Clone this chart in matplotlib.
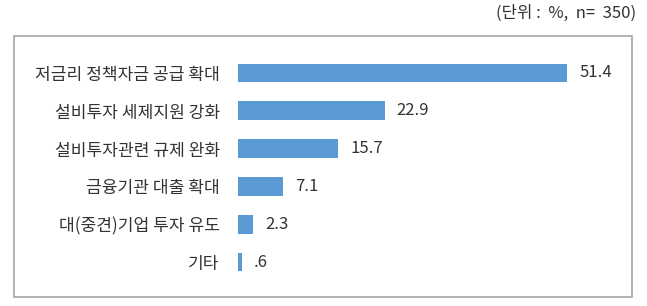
import matplotlib.pyplot as plt
from matplotlib.patches import Rectangle

plt.rcParams['font.family'] = ['Noto Sans CJK KR', 'DejaVu Sans']

categories = ['저금리 정책자금 공급 확대', '설비투자 세제지원 강화', '설비투자관련 규제 완화',
              '금융기관 대출 확대', '대(중견)기업 투자 유도', '기타']
values = [51.4, 22.9, 15.7, 7.1, 2.3, 0.6]
value_labels = ['51.4', '22.9', '15.7', '7.1', '2.3', '.6']

W, H = 647, 306
fig = plt.figure(figsize=(W / 100, H / 100), dpi=100)

# frame around the chart
fig.patches.append(Rectangle((14 / W, 1 - 297 / H), (632 - 14) / W, (297 - 36) / H,
                             transform=fig.transFigure, fill=False,
                             edgecolor='#a6a6a6', linewidth=1.2))

ax = fig.add_axes([238 / W, 1 - 281 / H, 387 / W, (281 - 54) / H])
ypos = list(range(len(categories)))
ax.barh(ypos, values, height=0.49, color='#5b9bd5')
ax.set_ylim(len(categories) - 0.5, -0.5)
ax.set_xlim(0, 387 / 6.4)
ax.set_yticks(ypos)
ax.set_yticklabels(categories, fontsize=12.3, color='#333333')
ax.tick_params(axis='y', length=0, pad=13)
ax.set_xticks([])
for s in ax.spines.values():
    s.set_visible(False)

for y, v, lab in zip(ypos, values, value_labels):
    ax.text(v + 1.9, y, lab, va='center', ha='left', fontsize=12, color='#333333')

fig.text(636 / W, 1 - 13 / H, '(단위 :  %,  n=  350)', ha='right', va='center',
         fontsize=12, color='#333333')

fig.savefig('out.png', dpi=100)
